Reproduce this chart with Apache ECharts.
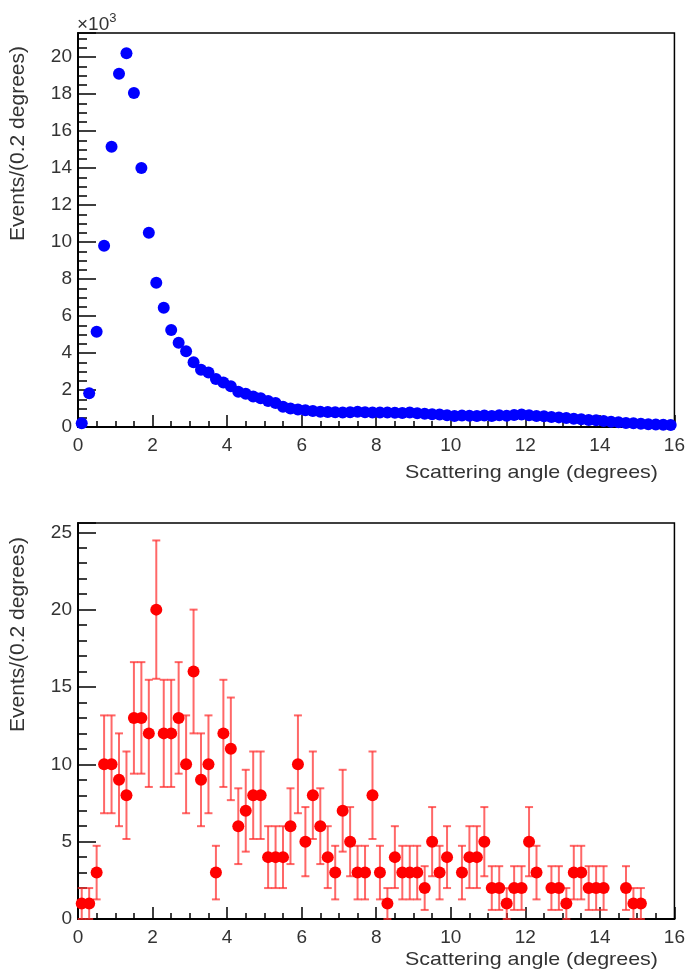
<!DOCTYPE html>
<html>
<head>
<meta charset="utf-8">
<script src="https://cdn.jsdelivr.net/npm/echarts@6/dist/echarts.min.js"></script>
<style>
  html, body { margin: 0; padding: 0; background: #fff; }
  #chart { width: 688px; height: 975px; }
</style>
</head>
<body>
<div id="chart"></div>
<script>
// bin centres, 0.2 degree bins from 0 to 16
const binCenters = [];
for (let i = 0; i < 80; i++) binCenters.push(+(0.1 + i * 0.2).toFixed(1));

// top panel: events per bin (all data)
const allEvents = [
  200, 1820, 5150, 9800, 15150, 19100, 20200, 18050, 14000, 10500,
  7800, 6450, 5250, 4550, 4100, 3500, 3100, 2950, 2600, 2400,
  2200, 1900, 1800, 1650, 1550, 1400, 1300, 1100, 1000, 950,
  900, 860, 830, 810, 800, 790, 800, 830, 800, 790,
  780, 790, 770, 760, 780, 740, 720, 690, 680, 640,
  600, 620, 610, 600, 620, 600, 640, 610, 650, 670,
  640, 600, 580, 540, 520, 490, 450, 420, 380, 360,
  320, 280, 260, 220, 200, 170, 150, 140, 120, 110
];

// bottom panel: selected events per bin (0 = empty bin, not drawn)
const selEvents = [
  1, 1, 3, 10, 10, 9, 8, 13, 13, 12,
  20, 12, 12, 13, 10, 16, 9, 10, 3, 12,
  11, 6, 7, 8, 8, 4, 4, 4, 6, 10,
  5, 8, 6, 4, 3, 7, 5, 3, 3, 8,
  3, 1, 4, 3, 3, 3, 2, 5, 3, 4,
  0, 3, 4, 4, 5, 2, 2, 1, 2, 2,
  5, 3, 0, 2, 2, 1, 3, 3, 2, 2,
  2, 0, 0, 2, 1, 1, 0, 0, 0, 0
];

const xTitle = 'Scattering angle (degrees)';
const yTitle = 'Events/(0.2 degrees)';

const topPoints = binCenters.map((x, i) => [x, allEvents[i]]);
const selPoints = [];
const selErrors = [];
binCenters.forEach((x, i) => {
  const n = selEvents[i];
  if (n > 0) {
    selPoints.push([x, n]);
    selErrors.push([x, n - Math.sqrt(n), n + Math.sqrt(n)]);
  }
});

const FONT = 'Liberation Sans, Arial, sans-serif';
const labelFont = { fontFamily: FONT, fontSize: 19, color: '#333' };

const xAxisBase = (gridIndex) => ({
  type: 'value', gridIndex, min: 0, max: 16, interval: 2,
  axisLine: { show: true, lineStyle: { color: '#000', width: 2 } },
  axisTick: { show: true, inside: true, length: 12, lineStyle: { color: '#000', width: 1.5 } },
  minorTick: { show: true, splitNumber: 4, length: 6, lineStyle: { color: '#000', width: 1.5 } },
  splitLine: { show: false },
  axisLabel: Object.assign({ margin: 9 }, labelFont)
});

const yAxisBase = (gridIndex, max, interval, minorSplit, fmt) => ({
  type: 'value', gridIndex, min: 0, max, interval,
  axisLine: { show: true, lineStyle: { color: '#000', width: 2 } },
  axisTick: { show: true, inside: true, length: 18, lineStyle: { color: '#000', width: 1.5 } },
  minorTick: { show: true, splitNumber: minorSplit, length: 9, lineStyle: { color: '#000', width: 1.5 } },
  splitLine: { show: false },
  axisLabel: Object.assign({ margin: 6, formatter: fmt, showMaxLabel: false }, labelFont)
});

const xTitleStyle = { text: xTitle, fontFamily: FONT, fontSize: 19, fill: '#333', textAlign: 'right', textVerticalAlign: 'middle' };
const yTitleStyle = { text: yTitle, fontFamily: FONT, fontSize: 21, fill: '#333', textAlign: 'right', textVerticalAlign: 'middle' };

const chart = echarts.init(document.getElementById('chart'));
chart.setOption({
  backgroundColor: '#fff',
  animation: false,
  grid: [
    { left: 78, right: 11, top: 33, height: 394, show: true, borderColor: '#000', borderWidth: 1.5 },
    { left: 78, right: 11, top: 523, height: 396, show: true, borderColor: '#000', borderWidth: 1.5 }
  ],
  xAxis: [xAxisBase(0), xAxisBase(1)],
  yAxis: [
    yAxisBase(0, 21300, 2000, 4, (v) => String(v / 1000)),
    yAxisBase(1, 25.6, 5, 5, (v) => String(v))
  ],
  graphic: [
    { type: 'text', x: 77, y: 12,
      style: { text: '×10{s|3}', font: '19px ' + FONT, fill: '#333',
        rich: { s: { fontSize: 13, verticalAlign: 'top', padding: [0, 0, 12, 0], fill: '#333' } } } },
    { type: 'text', x: 658, y: 473, scaleX: 1.13, style: xTitleStyle },
    { type: 'text', x: 658, y: 960, scaleX: 1.13, style: xTitleStyle },
    { type: 'text', x: 18, y: 46, rotation: Math.PI / 2, style: yTitleStyle },
    { type: 'text', x: 18, y: 537, rotation: Math.PI / 2, style: yTitleStyle }
  ],
  series: [
    {
      type: 'scatter', xAxisIndex: 0, yAxisIndex: 0,
      data: topPoints, symbol: 'circle', symbolSize: 12,
      itemStyle: { color: '#0000ff', opacity: 1 }
    },
    {
      type: 'custom', xAxisIndex: 1, yAxisIndex: 1,
      data: selErrors,
      renderItem: (params, api) => {
        const x = api.value(0);
        const lo = api.coord([x, api.value(1)]);
        const hi = api.coord([x, api.value(2)]);
        const cap = 4;
        const style = { stroke: 'rgba(255,40,40,0.7)', lineWidth: 2 };
        return {
          type: 'group',
          children: [
            { type: 'line', shape: { x1: lo[0], y1: lo[1], x2: hi[0], y2: hi[1] }, style },
            { type: 'line', shape: { x1: lo[0] - cap, y1: lo[1], x2: lo[0] + cap, y2: lo[1] }, style },
            { type: 'line', shape: { x1: hi[0] - cap, y1: hi[1], x2: hi[0] + cap, y2: hi[1] }, style }
          ]
        };
      },
      z: 1
    },
    {
      type: 'scatter', xAxisIndex: 1, yAxisIndex: 1,
      data: selPoints, symbol: 'circle', symbolSize: 12,
      itemStyle: { color: '#ff0000', opacity: 1 },
      z: 3
    }
  ]
});
</script>
</body>
</html>
